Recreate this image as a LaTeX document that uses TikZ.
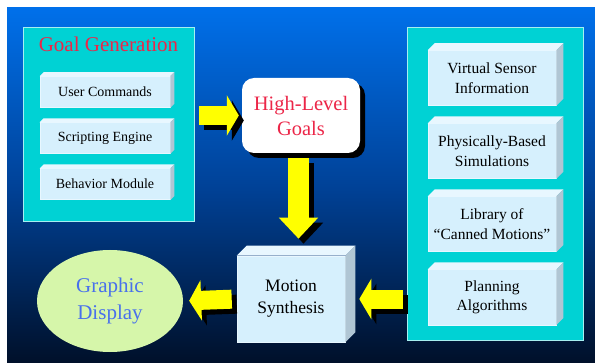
\documentclass[tikz,border=0pt]{standalone}
\usepackage{fontspec}
\setmainfont{Liberation Serif}
\usetikzlibrary{arrows.meta,positioning,shapes.geometric,shadows}

\definecolor{skytop}{RGB}{0,112,234}
\definecolor{skymid}{RGB}{0,66,152}
\definecolor{skybot}{RGB}{0,16,42}
\definecolor{panelcyan}{RGB}{0,210,212}
\definecolor{boxface}{RGB}{214,240,253}
\definecolor{boxtop}{RGB}{232,247,255}
\definecolor{boxside}{RGB}{176,198,212}
\definecolor{goalred}{RGB}{236,38,72}
\definecolor{dispblue}{RGB}{72,112,236}
\definecolor{dispgreen}{RGB}{214,246,170}
\definecolor{arrowyellow}{RGB}{255,255,0}

\tikzset{
  panel/.style={draw=white!65!panelcyan, fill=panelcyan, line width=0.8pt, inner sep=0pt},
  subbox/.style={fill=boxface, draw=boxtop, line width=0.6pt, inner sep=0pt, align=center,
    minimum width=130pt, minimum height=31pt, font=\fontsize{14}{16}\selectfont},
  infobox/.style={subbox, minimum width=128pt, minimum height=55pt, font=\fontsize{15.5}{19.5}\selectfont},
  synthbox/.style={subbox, minimum width=108pt, minimum height=86pt, font=\fontsize{17.5}{22}\selectfont},
  goalbox/.style={fill=white, rounded corners=12pt, minimum width=118pt, minimum height=75pt,
    align=center, text=goalred, font=\fontsize{20.5}{25}\selectfont,
    drop shadow={shadow xshift=5pt, shadow yshift=-5pt, fill=black, opacity=1}},
  display/.style={ellipse, fill=dispgreen, minimum width=146pt, minimum height=102pt,
    align=center, text=dispblue, font=\fontsize{21}{27}\selectfont},
  fatarrow/.style={line width=19pt, arrowyellow, -{Triangle[length=12pt,width=40pt]}},
  fatshadow/.style={fatarrow, black},
}

\newcommand\yellowlink[3][]{%
  \draw[fatshadow,#1] ([shift={(5pt,-5pt)}]#2) -- ([shift={(5pt,-5pt)}]#3);
  \draw[fatarrow,#1] (#2) -- (#3);}

\begin{document}
\begin{tikzpicture}[x=1pt,y=1pt]
  \useasboundingbox (0,0) rectangle (595,362);
  \fill[top color=skytop, bottom color=skybot, middle color=skymid] (7,0) rectangle (595,354);

  \node[panel, minimum width=171pt, minimum height=194pt] (gg) at (108.5,238) {};
  \node[text=goalred, font=\fontsize{21}{24}\selectfont] (ggtitle) at ([yshift=-18pt]gg.north) {Goal Generation};
  \node[subbox] (uc) at (105,270) {User Commands};
  \node[subbox, below=14.5pt of uc] (se) {Scripting Engine};
  \node[subbox, below=14.5pt of se] (bm) {Behavior Module};

  \node[panel, minimum width=176pt, minimum height=313pt] (rp) at (495,178.5) {};
  \node[infobox] (vs) at (492,284) {Virtual Sensor\\Information};
  \node[infobox, below=17.5pt of vs] (pb) {Physically-Based\\Simulations};
  \node[infobox, below=17.5pt of pb] (lc) {Library of\\``Canned Motions''};
  \node[infobox, below=17.5pt of lc] (pa) {Planning\\Algorithms};

  \node[goalbox] (hlg) at (301,246.5) {High-Level\\Goals};
  \node[synthbox] (ms) at (291,63) {Motion\\Synthesis};
  \node[display] (gd) at (110,61) {Graphic\\Display};

  \foreach \n/\d in {uc/4,se/4,bm/4,vs/7,pb/7,lc/7,pa/7,ms/10} {
    \fill[boxtop] (\n.north west) -- ++(\d,\d) -- ([shift={(\d,\d)}]\n.north east) -- (\n.north east) -- cycle;
    \fill[boxside] (\n.north east) -- ++(\d,\d) -- ([shift={(\d,\d)}]\n.south east) -- (\n.south east) -- cycle;
  }

  \coordinate (a1) at (gg.east |- hlg.west);
  \coordinate (a2) at ([shift={(-2.5pt,-5pt)}]hlg.south);
  \coordinate (m2) at (a2 |- ms.north);
  \coordinate (b2) at ([yshift=17pt]m2);
  \coordinate (a4) at (rp.west |- ms.east);
  \yellowlink[shorten <=5pt, shorten >=3pt]{a1}{hlg.west}
  \yellowlink[line width=21pt, -{Triangle[length=21pt,width=38pt]}]{a2}{b2}
  \yellowlink[shorten <=5pt, shorten >=6pt]{ms.west}{gd.east}
  \yellowlink[shorten <=4pt, shorten >=14pt]{a4}{ms.east}
\end{tikzpicture}
\end{document}
